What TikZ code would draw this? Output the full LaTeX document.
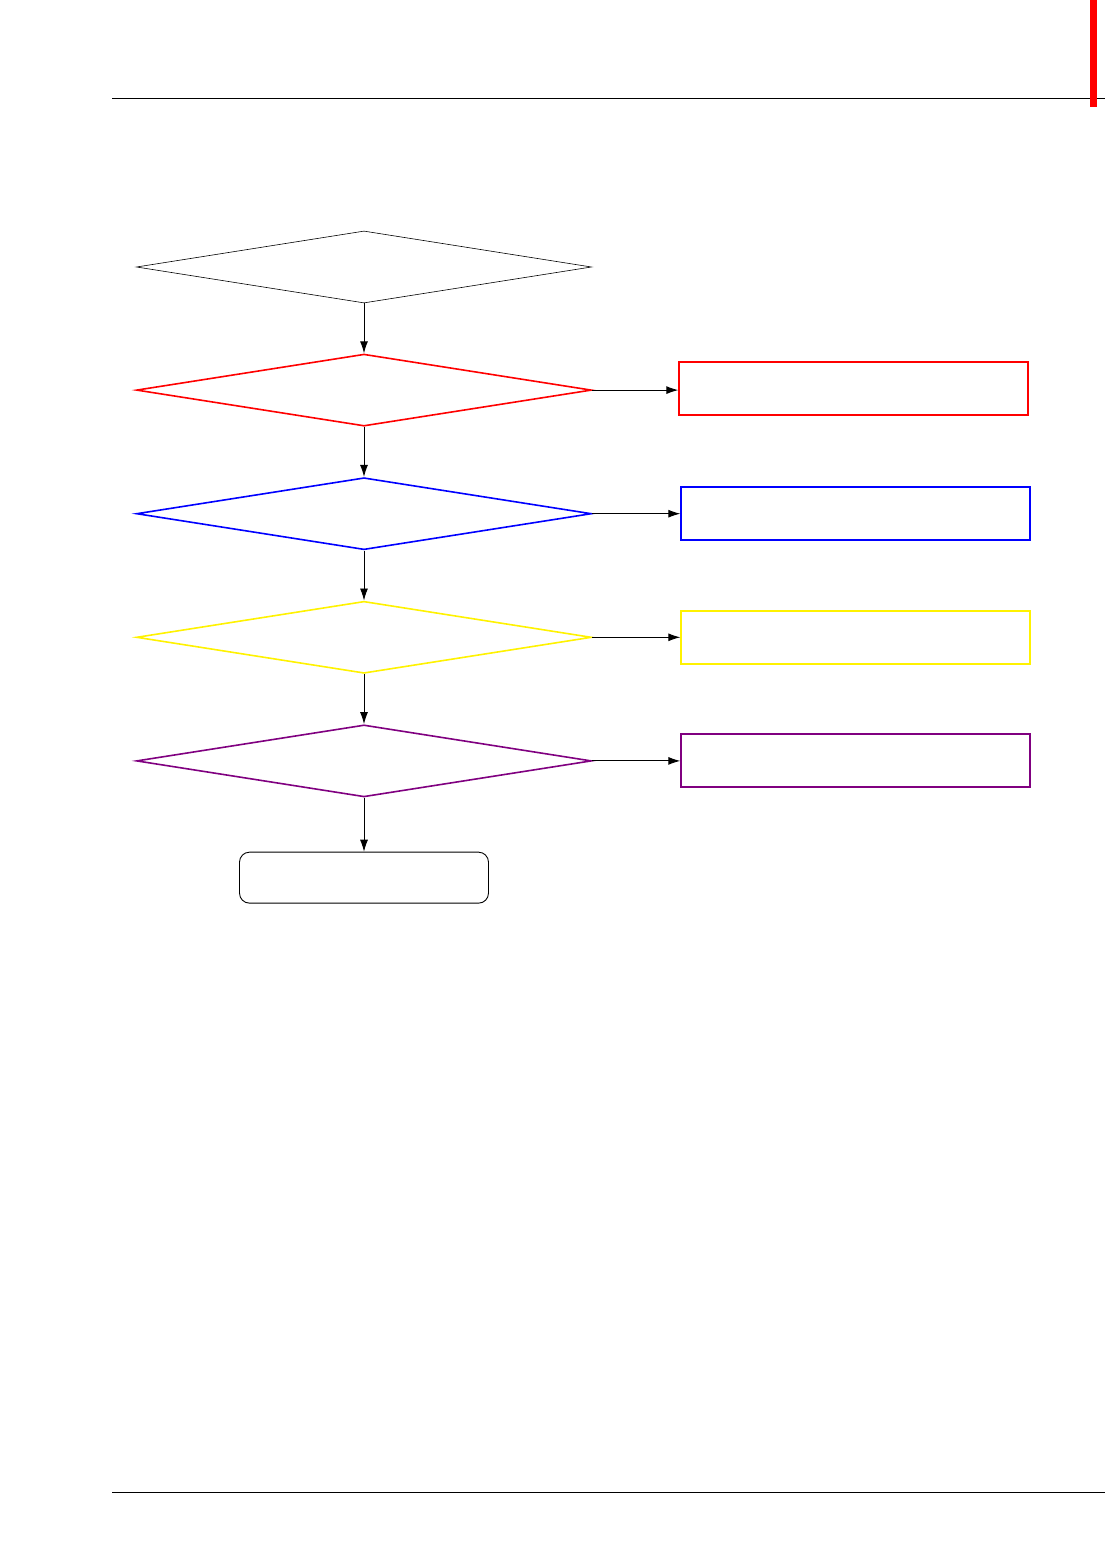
\documentclass[tikz,border=0pt]{standalone}
\usepackage{xcolor}
\usepackage{tikz}
\usetikzlibrary{arrows.meta,positioning,shapes.geometric}

\definecolor{chkpurple}{RGB}{128,0,128}

\begin{document}
\begin{tikzpicture}[
    x=1pt, y=1pt,
    dec/.style={diamond, draw, inner sep=0pt, aspect=6.3,
                minimum width=455pt, minimum height=72pt, line width=1.6pt},
    res/.style={draw, inner sep=0pt, minimum width=349pt, minimum height=53pt,
                line width=1.9pt},
    fin/.style={draw, rounded corners=10pt, inner sep=0pt,
                minimum width=249pt, minimum height=51pt, line width=0.9pt},
    flow/.style={-{Latex[length=12pt,width=8pt]}, line width=0.9pt},
    node distance=50pt,
    ]
\useasboundingbox (0,0) rectangle (1107,-1554);

% page rules
\draw[line width=1pt] (112,-99) coordinate (hl) -- (1105,-99) coordinate (hr);
\draw[line width=1pt] (112,-1492) coordinate (fl) -- (1105,-1492) coordinate (fr);
\fill[red] (1090,0) rectangle (1097,-107);

% decisions
\node[dec, line width=0.6pt] (d0) at (364,-267) {};
\node[dec, draw=red, below=of d0] (d1) {};
\node[dec, draw=blue, below=of d1] (d2) {};
\node[dec, draw=yellow, below=of d2] (d3) {};
\node[dec, draw=chkpurple, below=of d3] (d4) {};
\node[fin, below=54pt of d4] (end) {};

% results
\node[res, draw=red, right=86pt of d1, yshift=1.5pt] (r1) {};
\node[res, draw=blue, right=88pt of d2] (r2) {};
\node[res, draw=yellow, right=88pt of d3] (r3) {};
\node[res, draw=chkpurple, right=88pt of d4] (r4) {};

\draw[flow] (d0) -- (d1);
\draw[flow] (d1) -- (d2);
\draw[flow] (d2) -- (d3);
\draw[flow] (d3) -- (d4);
\draw[flow] (d4) -- (end);

\draw[flow] (d1.east) -- (r1.west |- d1.east);
\draw[flow] (d2.east) -- (r2.west);
\draw[flow] (d3.east) -- (r3.west);
\draw[flow] (d4.east) -- (r4.west);
\end{tikzpicture}
\end{document}
